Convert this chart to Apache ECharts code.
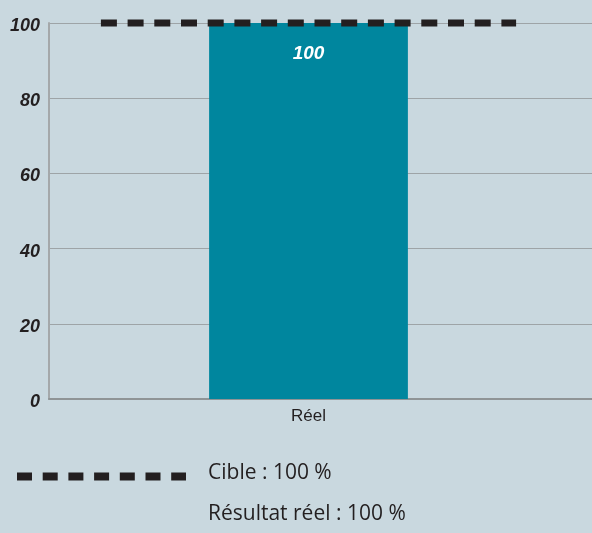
<!DOCTYPE html>
<html>
<head>
<meta charset="utf-8">
<script src="https://cdn.jsdelivr.net/npm/echarts@6/dist/echarts.min.js"></script>
<style>
  html, body { margin: 0; padding: 0; background: #c9d8df; }
  #chart { width: 592px; height: 533px; }
</style>
</head>
<body>
<div id="chart"></div>
<script>
var categories = ['Réel'];
var actualValues = [100];
var targetValues = [100];
var yTicks = { min: 0, max: 100, interval: 20 };
var legendNames = ['Cible', 'Résultat réel'];

var sans = '"Liberation Sans", Arial, sans-serif';
var ink = '#231f20';

var myChart = echarts.init(document.getElementById('chart'));

var option = {
    backgroundColor: '#c9d8df',
    animation: false,
    grid: [
        // full width grid: gridlines + y labels
        {left: 49, right: 0, top: 23, bottom: 134},
        // grid for the bar itself
        {left: 49, right: 24, top: 23, bottom: 134}
    ],
    xAxis: [
        {
            type: 'category',
            gridIndex: 0,
            data: [''],
            axisLine: {show: true, lineStyle: {color: '#8f9496', width: 2}},
            axisTick: {show: false},
            axisLabel: {show: false}
        },
        {
            type: 'category',
            gridIndex: 1,
            data: categories,
            axisLine: {show: false},
            axisTick: {show: false},
            axisLabel: {
                margin: 9,
                fontFamily: sans,
                fontSize: 17,
                color: ink
            }
        }
    ],
    yAxis: [
        {
            type: 'value',
            gridIndex: 0,
            min: yTicks.min,
            max: yTicks.max,
            interval: yTicks.interval,
            axisLine: {show: true, lineStyle: {color: '#a4a8aa', width: 2}},
            axisTick: {show: false},
            splitLine: {lineStyle: {color: '#9ea4a7', width: 1}},
            axisLabel: {
                margin: 9,
                formatter: '{v|{value}}',
                rich: {
                    v: {
                        padding: [6, 0, 0, 0],
                        fontFamily: sans,
                        fontSize: 18,
                        fontWeight: 'bold',
                        fontStyle: 'italic',
                        color: ink
                    }
                }
            }
        },
        {
            type: 'value',
            gridIndex: 1,
            min: yTicks.min,
            max: yTicks.max,
            interval: yTicks.interval,
            show: false,
            splitLine: {show: false}
        }
    ],
    series: [
        {
            name: legendNames[1],
            type: 'bar',
            xAxisIndex: 1,
            yAxisIndex: 1,
            data: actualValues,
            barWidth: '38.3%',
            itemStyle: {color: '#00869e'},
            label: {
                show: true,
                position: 'insideTop',
                distance: 21,
                fontFamily: sans,
                fontSize: 19,
                fontWeight: 'bold',
                fontStyle: 'italic',
                color: '#ffffff'
            },
            z: 2
        },
        {
            name: legendNames[0],
            type: 'custom',
            xAxisIndex: 1,
            yAxisIndex: 1,
            data: targetValues.map(function (v, i) { return [i, v]; }),
            renderItem: function (params, api) {
                var p = api.coord([api.value(0), api.value(1)]);
                var band = api.size([1, 0])[0];
                return {
                    type: 'line',
                    shape: {x1: p[0] - band * 0.4, y1: p[1], x2: p[0] + band * 0.4, y2: p[1]},
                    style: {stroke: ink, lineWidth: 7, lineDash: [16, 10.7]}
                };
            },
            clip: false,
            z: 5
        }
    ],
    graphic: [
        {
            type: 'line',
            shape: {x1: 17, y1: 476.5, x2: 186, y2: 476.5},
            style: {stroke: ink, lineWidth: 8, lineDash: [15, 10.7]}
        },
        {
            type: 'text',
            x: 208,
            y: 473.5,
            style: {
                text: legendNames[0] + ' : ' + targetValues[0] + ' %',
                font: '21px "Open Sans", sans-serif',
                fill: ink,
                verticalAlign: 'middle'
            }
        },
        {
            type: 'text',
            x: 208,
            y: 514,
            style: {
                text: legendNames[1] + ' : ' + actualValues[0] + ' %',
                font: '21px "Open Sans", sans-serif',
                fill: ink,
                verticalAlign: 'middle'
            }
        }
    ]
};

myChart.setOption(option);
</script>
</body>
</html>
